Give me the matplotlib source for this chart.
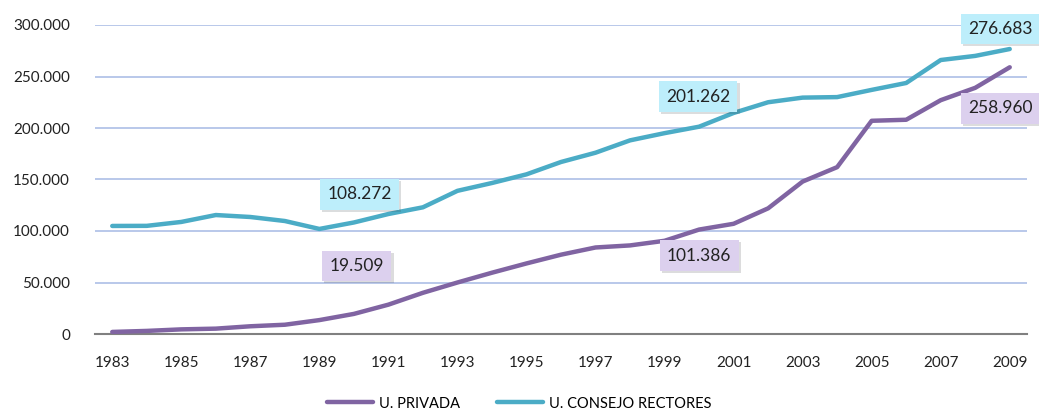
import matplotlib.pyplot as plt
import matplotlib.patheffects as pe
from matplotlib.ticker import FuncFormatter

plt.rcParams['font.family'] = ['Lato', 'DejaVu Sans']

# Data: students per year
years = list(range(1983, 2010))
privada = [2000, 3000, 4500, 5200, 7500, 9000, 13500, 19509, 28500, 40000,
           50000, 59500, 68500, 77000, 84000, 86000, 90500, 101386, 107000, 122000,
           148000, 162000, 207000, 208000, 227000, 239000, 258960]
consejo = [104900, 105000, 108800, 115500, 113600, 109700, 102000, 108272, 116500, 123000,
           139000, 146600, 155000, 167000, 176000, 188000, 195000, 201262, 214600, 225000,
           229500, 230000, 237000, 243700, 266000, 270000, 276683]

purple = '#8064A2'
cyan = '#4BACC6'

fig = plt.figure(figsize=(10.39, 4.15), dpi=100)
ax = fig.add_axes([95 / 1039, 1 - 334 / 415, (1027 - 95) / 1039, (334 - 25) / 415])

x = list(range(len(years)))
ax.plot(x, privada, color=purple, lw=3.2, solid_capstyle='round', solid_joinstyle='round',
        label='U. PRIVADA', zorder=3)
ax.plot(x, consejo, color=cyan, lw=3.2, solid_capstyle='round', solid_joinstyle='round',
        label='U. CONSEJO RECTORES', zorder=3)

ax.set_xlim(-0.5, len(years) - 0.5)
ax.set_ylim(0, 300000)
ax.set_yticks(range(0, 300001, 50000))
ax.yaxis.set_major_formatter(FuncFormatter(lambda v, p: f"{int(v):,}".replace(',', '.')))
ax.set_xticks(x[::2])
ax.set_xticklabels([str(y) for y in years[::2]])
ax.tick_params(length=0, labelsize=11, colors='#222222')
ax.tick_params(axis='x', pad=16)
ax.tick_params(axis='y', pad=18)

ax.grid(axis='y', color='#B3C4E8', lw=1.3)
ax.set_axisbelow(True)
for s in ['top', 'right', 'left']:
    ax.spines[s].set_visible(False)
ax.spines['bottom'].set_color('#808080')
ax.spines['bottom'].set_linewidth(1.5)

# value labels
labels = [
    (years.index(1990), consejo, (6, 28), '#BDEEFB'),
    (years.index(2000), consejo, (-1, 30), '#BDEEFB'),
    (years.index(2009), consejo, (-9, 20), '#BDEEFB'),
    (years.index(1990), privada, (3, 48), '#DCD0EE'),
    (years.index(2000), privada, (0, -26), '#DCD0EE'),
    (years.index(2009), privada, (-9, -41), '#DCD0EE'),
]
for i, series, off, fc in labels:
    txt = f"{series[i]:,}".replace(',', '.')
    t = ax.annotate(txt, (x[i], series[i]), xytext=off, textcoords='offset pixels',
                    ha='center', va='center', fontsize=12.5, color='#222222', zorder=5,
                    bbox=dict(boxstyle='square,pad=0.42', fc=fc, ec='none'),
                    annotation_clip=False)
    t.get_bbox_patch().set_path_effects([pe.SimplePatchShadow(offset=(1.5, -1.5), alpha=0.18),
                                        pe.Normal()])

ax.legend(loc='upper center', bbox_to_anchor=(0.455, -0.16), ncol=2, frameon=False,
          fontsize=10.5, handlelength=3.2, columnspacing=2.5, handletextpad=0.4)

plt.savefig('out.png', dpi=100)
